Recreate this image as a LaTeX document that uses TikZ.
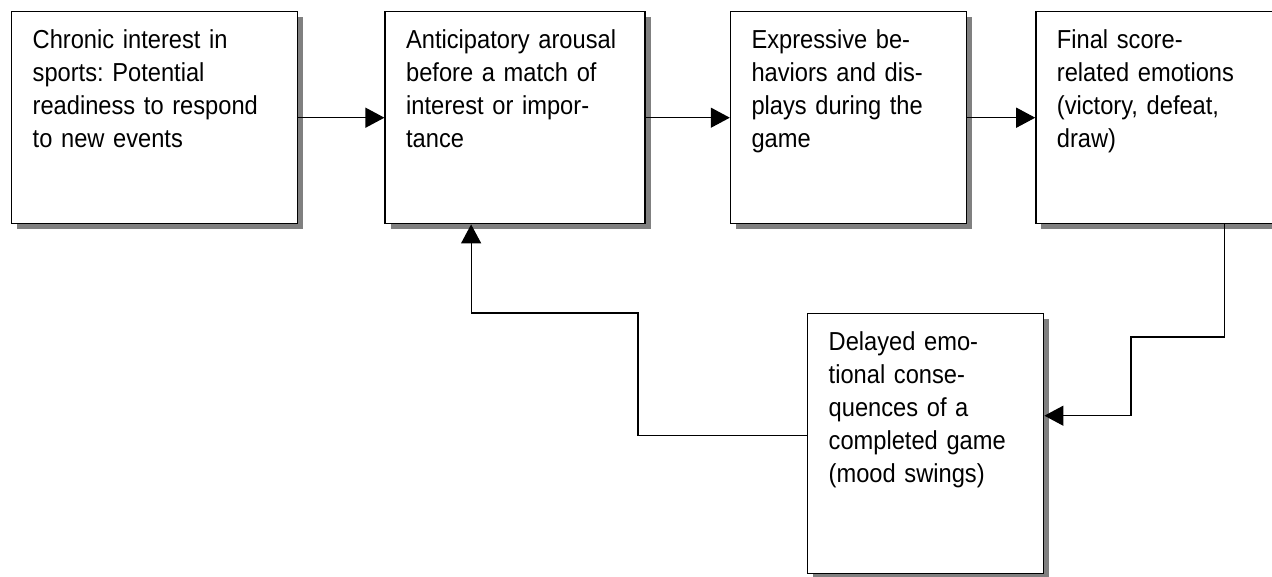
\documentclass[tikz,border=0pt]{standalone}
\usepackage{fontspec}
\setmainfont{Liberation Sans}[FakeStretch=0.91]
\usetikzlibrary{arrows.meta, positioning, shadows}
\frenchspacing

\begin{document}
\begin{tikzpicture}[
    stage/.style={rectangle, draw, fill=white, line width=0.8pt, align=left, inner xsep=0.42cm, inner ysep=0.36cm, text height=0.38cm, text depth=3.14cm, font=\fontsize{14.8}{18.8}\selectfont, drop shadow={shadow xshift=0.11cm, shadow yshift=-0.11cm, fill=black!50, opacity=1}},
    arrow/.style={line width=0.7pt, -{Triangle[length=0.38cm, width=0.4cm]}}]
    \useasboundingbox (0,0) rectangle (25.44,-11.52);

    \node [stage, text width=4.88cm, anchor=north west] (chronic) at (0.22,-0.22) {Chronic interest in\\sports: Potential\\readiness to respond\\to new events};
    \node [stage, text width=4.36cm, right=1.72cm of chronic] (arousal) {Anticipatory arousal\\before a match of\\interest or impor-\\tance};
    \node [stage, text width=3.88cm, right=1.68cm of arousal] (expressive) {Expressive be-\\haviors and dis-\\plays during the\\game};
    \node [stage, text width=3.90cm, right=1.36cm of expressive] (final) {Final score-\\related emotions\\(victory, defeat,\\draw)};
    \node [stage, text width=3.88cm, text depth=4.10cm, anchor=north west] (delayed) at (16.14,-6.26) {Delayed emo-\\tional conse-\\quences of a\\completed game\\(mood swings)};

    \draw [arrow] (chronic) -- (arousal);
    \draw [arrow] (arousal) -- (expressive);
    \draw [arrow] (expressive) -- (final);
    \draw [arrow] ([xshift=-0.98cm]final.south east) |- (22.62,-6.74) |- ([yshift=0.56cm]delayed.east);
    \draw [arrow] ([yshift=0.16cm]delayed.west) -| (12.76,-6.26) -| ([xshift=-0.88cm]arousal.south);
\end{tikzpicture}
\end{document}
